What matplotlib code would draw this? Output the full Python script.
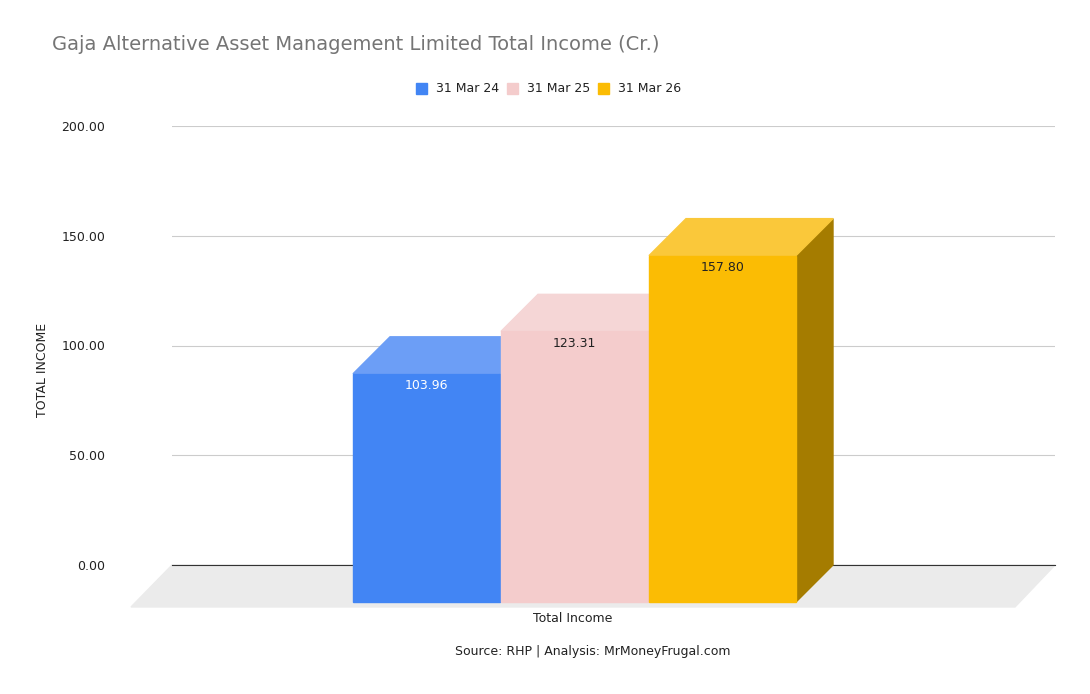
import matplotlib
matplotlib.use("Agg")
import matplotlib.pyplot as plt
from matplotlib.patches import Polygon

categories = ["Total Income"]
series = ["31 Mar 24", "31 Mar 25", "31 Mar 26"]
values = [103.96, 123.31, 157.80]
yticks = [0, 50, 100, 150, 200]

front = ["#4285F4", "#F4CCCC", "#FBBC04"]
top = ["#6C9EF6", "#F5D6D6", "#FAC83A"]
side = ["#2F63C0", "#B89A9A", "#A57C00"]
lblc = ["white", "#222222", "#222222"]

W, H = 1090, 694
fig = plt.figure(figsize=(W/100, H/100), dpi=100)
ax = fig.add_axes([172/W, (H-565)/H, 883/W, 439/H])
ax.set_xlim(172, 1055)
ax.set_ylim(0, 200)
ppu = 439/200
dx = 37
dy = 37/ppu
for s in ax.spines.values():
    s.set_visible(False)
ax.set_xticks([])
ax.set_yticks(yticks)
ax.set_yticklabels([f"{t:.2f}" for t in yticks], fontsize=9, color="#222222")
ax.tick_params(axis="y", length=0, pad=48)
for t in yticks[1:]:
    ax.axhline(t, color="#CCCCCC", lw=0.8, zorder=0)
# floor
ax.add_patch(Polygon([(172-41, -42/ppu), (172, 0), (1055, 0), (1015, -42/ppu)],
                     closed=True, color="#EBEBEB", clip_on=False, zorder=1))
ax.plot([172, 1055], [0, 0], color="#333333", lw=0.8, zorder=2, clip_on=False)

x0, bw = 353, 147
for i, v in enumerate(values):
    xl = x0 + i*148
    xr = xl + bw
    yb = -dy
    yt = v - dy
    ax.add_patch(Polygon([(xr, yb), (xr+dx, 0), (xr+dx, v), (xr, yt)], color=side[i], clip_on=False, zorder=3+i))
    ax.add_patch(Polygon([(xl, yt), (xl+dx, v), (xr+dx, v), (xr, yt)], color=top[i], clip_on=False, zorder=3+i))
    ax.add_patch(Polygon([(xl, yb), (xr, yb), (xr, yt), (xl, yt)], color=front[i], clip_on=False, zorder=3+i))
    ax.text((xl+xr)/2, yt - 12/ppu, f"{v:.2f}", ha="center", va="center", fontsize=9, color=lblc[i], zorder=10)

fig.text(52/W, 1-45/H, "Gaja Alternative Asset Management Limited Total Income (Cr.)",
         fontsize=14, color="#757575", va="center", ha="left")
fig.text(42/W, 1-370/H, "TOTAL INCOME", rotation=90, fontsize=9, color="#222222", va="center", ha="center")
fig.text(573/W, 1-619/H, categories[0], fontsize=9, color="#222222", va="center", ha="center")
fig.text(593/W, 1-651/H, "Source: RHP | Analysis: MrMoneyFrugal.com", fontsize=9, color="#222222", va="center", ha="center")

lx = [416, 507, 598]
for i, s in enumerate(series):
    fig.patches.append(Polygon([((lx[i])/W, 1-83/H), ((lx[i]+11)/W, 1-83/H), ((lx[i]+11)/W, 1-94/H), (lx[i]/W, 1-94/H)],
                               closed=True, color=front[i], transform=fig.transFigure))
    fig.text((lx[i]+20)/W, 1-88.5/H, s, fontsize=9, color="#222222", va="center", ha="left")

fig.savefig("out.png", dpi=100, facecolor="white")
